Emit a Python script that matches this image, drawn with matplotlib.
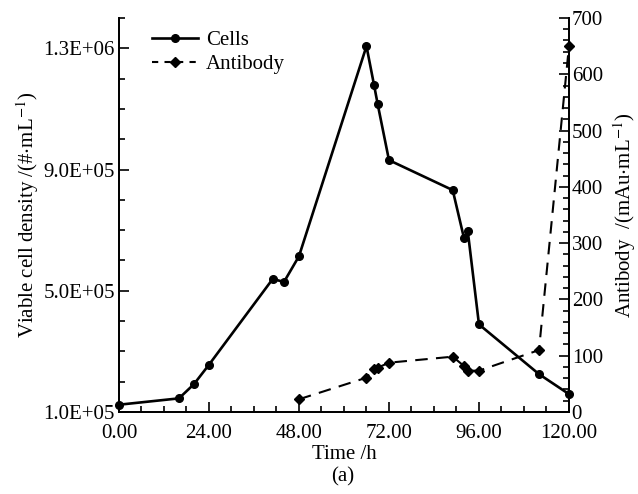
import matplotlib
matplotlib.use("Agg")
import matplotlib.pyplot as plt
from matplotlib.ticker import MultipleLocator, FixedLocator, FuncFormatter
from matplotlib.lines import Line2D

plt.rcParams['font.family'] = ['Liberation Serif', 'DejaVu Serif']
plt.rcParams['mathtext.fontset'] = 'stix'

cell_time = [0, 16, 20, 24, 41, 44, 48, 66, 68, 69, 72, 89, 92, 93, 96, 112, 120]
cell_density = [1.24e5, 1.45e5, 1.92e5, 2.56e5, 5.39e5, 5.29e5, 6.14e5, 1.307e6, 1.18e6,
                1.115e6, 9.31e5, 8.32e5, 6.74e5, 6.98e5, 3.89e5, 2.25e5, 1.59e5]

ab_time = [48, 66, 68, 69, 72, 89, 92, 93, 96, 112, 120]
antibody = [22.6, 61, 76.4, 78.7, 87.6, 98.3, 81.7, 73.4, 73.4, 110, 650]

x_ticks = [0, 24, 48, 72, 96, 120]
left_ticks = [1.0e5, 5.0e5, 9.0e5, 1.3e6]
left_labels = ["1.0E+05", "5.0E+05", "9.0E+05", "1.3E+06"]
right_ticks = [0, 100, 200, 300, 400, 500, 600, 700]

fs = 15
fig = plt.figure(figsize=(6.38, 4.94), dpi=100)
ax = fig.add_axes([0.1865, 0.166, 0.7053, 0.7976])
ax2 = ax.twinx()

ax.plot(cell_time, cell_density, '-', color='black', lw=1.9, marker='o', ms=5.5,
        clip_on=False, zorder=3)
ax2.plot(ab_time, antibody, '--', color='black', lw=1.5, dashes=(6, 4), marker='D', ms=5.5,
         clip_on=False, zorder=3)

ax.set_xlim(0, 120)
ax.set_ylim(1e5, 1.4e6)
ax2.set_ylim(0, 700)

ax.xaxis.set_major_locator(FixedLocator(x_ticks))
ax.xaxis.set_minor_locator(MultipleLocator(6))
ax.xaxis.set_major_formatter(FuncFormatter(lambda v, p: f"{v:.2f}"))
ax.yaxis.set_major_locator(FixedLocator(left_ticks))
ax.set_yticklabels(left_labels)
ax.yaxis.set_minor_locator(MultipleLocator(1e5))
ax2.yaxis.set_major_locator(FixedLocator(right_ticks))
ax2.yaxis.set_minor_locator(MultipleLocator(20))

for a in (ax, ax2):
    a.tick_params(which='major', direction='in', length=7, width=1.2, labelsize=fs, pad=3)
    a.tick_params(which='minor', direction='in', length=4, width=1.2)
    for s in a.spines.values():
        s.set_linewidth(1.3)
ax.tick_params(axis='x', which='both', top=False)
ax.tick_params(axis='x', which='major', pad=9)
ax2.tick_params(axis='y', pad=2)
ax.spines['top'].set_visible(False)
ax2.spines['top'].set_visible(False)

ax.set_xlabel("Time /h", fontsize=fs, labelpad=1)
ax.set_ylabel("Viable cell density /(#$\\cdot$mL$^{-1}$)", fontsize=fs, labelpad=2)
ax2.set_ylabel("Antibody  /(mAu$\\cdot$mL$^{-1}$)", fontsize=fs, labelpad=6)
fig.text(0.537, 0.034, "(a)", fontsize=fs, ha='center', va='center')

handles = [Line2D([], [], color='black', lw=1.9, marker='o', ms=5.5),
           Line2D([], [], color='black', lw=1.5, ls='--', dashes=(3, 3), marker='D', ms=5.5)]
ax.legend(handles, ["Cells", "Antibody"], loc='upper left', frameon=False, fontsize=fs,
          handlelength=2.2, handletextpad=0.4, labelspacing=0.2,
          bbox_to_anchor=(0.045, 1.0), borderaxespad=0.2)

fig.savefig("out.png", dpi=100)
